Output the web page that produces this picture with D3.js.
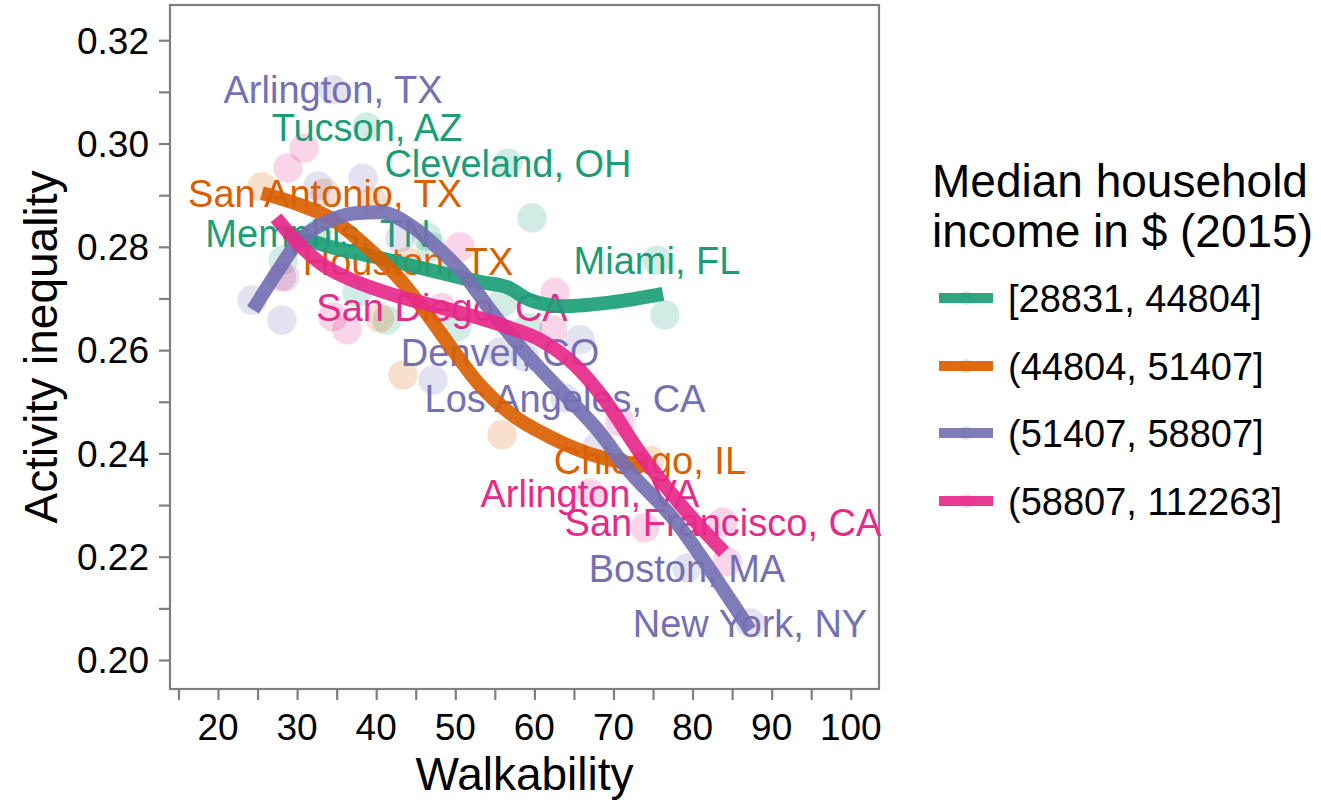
<!DOCTYPE html>
<html><head><meta charset="utf-8">
<script src="https://cdn.jsdelivr.net/npm/d3@7"></script>
<style>body{margin:0;background:#fff}svg{display:block}text{font-family:"Liberation Sans",Arial,Helvetica,sans-serif}</style>
</head><body>
<script>
const groups = ["[28831, 44804]", "(44804, 51407]", "(51407, 58807]", "(58807, 112263]"];
const colors = ["#1b9e77", "#d95f02", "#7570b3", "#e7298a"];

// points: walkability, inequality, group index, label
const ptWalk = [38.84,56.66,59.70,75.50,76.51,32.64,47.0,46.42,28.22,37.57,41.37,56.03,59.19,50.21,
  25.56,33.53,39.60,44.02,40.48,43.39,55.90,74.61,
  34.54,38.33,32.64,24.30,28.09,28.47,47.18,65.77,55.65,63.87,67.91,79.29,87.26,43.0,58.81,
  30.87,28.85,28.09,36.31,34.54,48.32,50.59,62.60,62.35,70.82,67.03,73.98,83.84,84.35];
const ptIneq = [0.3032,0.2962,0.2856,0.2774,0.2668,0.2827,0.2800,0.2819,0.2774,0.2712,0.2658,0.2693,0.2643,0.2645,
  0.2916,0.2904,0.2887,0.2771,0.2662,0.2552,0.2436,0.2387,
  0.3104,0.2933,0.2918,0.2697,0.2658,0.2742,0.2542,0.2620,0.2596,0.2507,0.2412,0.2178,0.2072,0.2817,0.2587,
  0.2991,0.2953,0.2742,0.2639,0.2664,0.2682,0.2800,0.2712,0.2639,0.2461,0.2323,0.2256,0.2267,0.2190];
const ptGroup = [0,0,0,0,0,0,0,0,0,0,0,0,0,0,
  1,1,1,1,1,1,1,1,
  2,2,2,2,2,2,2,2,2,2,2,2,2,2,2,
  3,3,3,3,3,3,3,3,3,3,3,3,3,3];
const ptLabel = ["Tucson, AZ","Cleveland, OH","","Miami, FL","","Memphis, TN","","","","","","","","",
  "","San Antonio, TX","","Houston, TX","","","","Chicago, IL",
  "Arlington, TX","","","","","","","","Denver, CO","Los Angeles, CA","","Boston, MA","New York, NY","","",
  "","","","","","San Diego, CA","","","","","Arlington, VA","","San Francisco, CA",""];

// smoothed trend lines
const smoothWalk = [
  [28.47,34.16,40.48,46.80,53.12,56.54,59.44,63.62,69.94,76.26],
  [25.56,30.37,34.16,39.22,43.39,46.80,49.71,53.12,56.92,61.97,68.29,74.36],
  [24.42,27.21,29.99,33.78,37.32,40.48,44.27,48.07,50.97,54.39,58.56,63.24,68.29,71.33,78.03,83.08,87.26],
  [27.33,30.37,33.27,36.31,43.01,49.33,56.54,60.71,65.13,68.93,73.35,78.53,83.97]
];
const smoothIneq = [
  [0.2829,0.2800,0.2778,0.2755,0.2732,0.2722,0.2697,0.2685,0.2693,0.2709],
  [0.2904,0.2881,0.2856,0.2794,0.2730,0.2662,0.2600,0.2532,0.2478,0.2432,0.2393,0.2376],
  [0.2678,0.2745,0.2807,0.2848,0.2865,0.2867,0.2842,0.2794,0.2749,0.2678,0.2600,0.2523,0.2440,0.2378,0.2265,0.2155,0.2058],
  [0.2856,0.2803,0.2765,0.2740,0.2703,0.2678,0.2645,0.2620,0.2571,0.2503,0.2401,0.2300,0.2209]
];

const xTicks = [20,30,40,50,60,70,80,90,100];
const xMinor = [15,25,35,45,55,65,75,85,95];
const yTicks = [0.20,0.22,0.24,0.26,0.28,0.30,0.32];
const yMinor = [0.21,0.23,0.25,0.27,0.29,0.31];

const W = 1321, H = 801;
const P = {l:170, r:879, t:5, b:689};
const x = d3.scaleLinear().domain([13.93,103.57]).range([P.l,P.r]);
const y = d3.scaleLinear().domain([0.19439,0.32682]).range([P.b,P.t]);

const svg = d3.select("body").append("svg").attr("width",W).attr("height",H);
const gray = "#7f7f7f";

// axes ticks
const xa = svg.append("g").attr("transform",`translate(0,${P.b})`)
  .call(d3.axisBottom(x).tickValues(xTicks.concat(xMinor)).tickSize(11).tickFormat(""));
const ya = svg.append("g").attr("transform",`translate(${P.l},0)`)
  .call(d3.axisLeft(y).tickValues(yTicks.concat(yMinor)).tickSize(11).tickFormat(""));
[xa,ya].forEach(a=>{a.select(".domain").remove();a.selectAll("line").attr("stroke",gray).attr("stroke-width",2.2);});

xa.selectAll(".lbl").data(xTicks).enter().append("text")
  .attr("x",d=>x(d)).attr("y",51).attr("text-anchor","middle")
  .attr("font-size",37).attr("fill","#000").text(d=>d);
ya.selectAll(".lbl").data(yTicks).enter().append("text")
  .attr("x",-21).attr("y",d=>y(d)).attr("dy","0.36em").attr("text-anchor","end")
  .attr("font-size",37).attr("fill","#000").text(d=>d3.format(".2f")(d));

// panel
svg.append("rect").attr("x",P.l).attr("y",P.t).attr("width",P.r-P.l).attr("height",P.b-P.t)
  .attr("fill","#fff").attr("stroke",gray).attr("stroke-width",2.2);

const plot = svg.append("g");

const pts = ptWalk.map((w,i)=>({w, v:ptIneq[i], g:ptGroup[i], label:ptLabel[i]}));

plot.selectAll("circle.pt").data(pts).enter().append("circle")
  .attr("cx",d=>x(d.w)).attr("cy",d=>y(d.v)).attr("r",15)
  .attr("fill",d=>colors[d.g]).attr("fill-opacity",0.2)
  .attr("stroke","#fff").attr("stroke-opacity",0.5).attr("stroke-width",1);

plot.selectAll("text.lab").data(pts.filter(d=>d.label)).enter().append("text")
  .attr("x",d=>x(d.w)).attr("y",d=>y(d.v)).attr("dy","0.36em").attr("text-anchor","middle")
  .attr("font-size",38).attr("fill",d=>colors[d.g]).text(d=>d.label);

const line = d3.line().x(d=>x(d[0])).y(d=>y(d[1])).curve(d3.curveMonotoneX);
smoothWalk.forEach((ws,gi)=>{
  plot.append("path").datum(ws.map((w,j)=>[w,smoothIneq[gi][j]]))
    .attr("d",line).attr("fill","none").attr("stroke",colors[gi])
    .attr("stroke-width",14).attr("stroke-opacity",0.92).attr("stroke-linecap","butt");
});

// axis titles
svg.append("text").attr("x",(P.l+P.r)/2).attr("y",790).attr("text-anchor","middle")
  .attr("font-size",46).attr("fill","#000").text("Walkability");
svg.append("text").attr("transform",`translate(57,${(P.t+P.b)/2}) rotate(-90)`)
  .attr("text-anchor","middle").attr("font-size",46).attr("fill","#000").text("Activity inequality");

// legend
const lg = svg.append("g");
lg.append("text").attr("x",932).attr("y",197).attr("font-size",46).text("Median household");
lg.append("text").attr("x",932).attr("y",247).attr("font-size",46).text("income in $ (2015)");
const keyY = [298,366,433,501];
groups.forEach((g,i)=>{
  lg.append("circle").attr("cx",966).attr("cy",keyY[i]).attr("r",7)
    .attr("fill",colors[i]).attr("fill-opacity",0.2);
  lg.append("line").attr("x1",939).attr("x2",993).attr("y1",keyY[i]).attr("y2",keyY[i])
    .attr("stroke",colors[i]).attr("stroke-width",10).attr("stroke-opacity",0.92);
  lg.append("text").attr("x",1008).attr("y",keyY[i]).attr("dy","0.36em")
    .attr("font-size",38).text(g);
});
</script>
</body></html>
